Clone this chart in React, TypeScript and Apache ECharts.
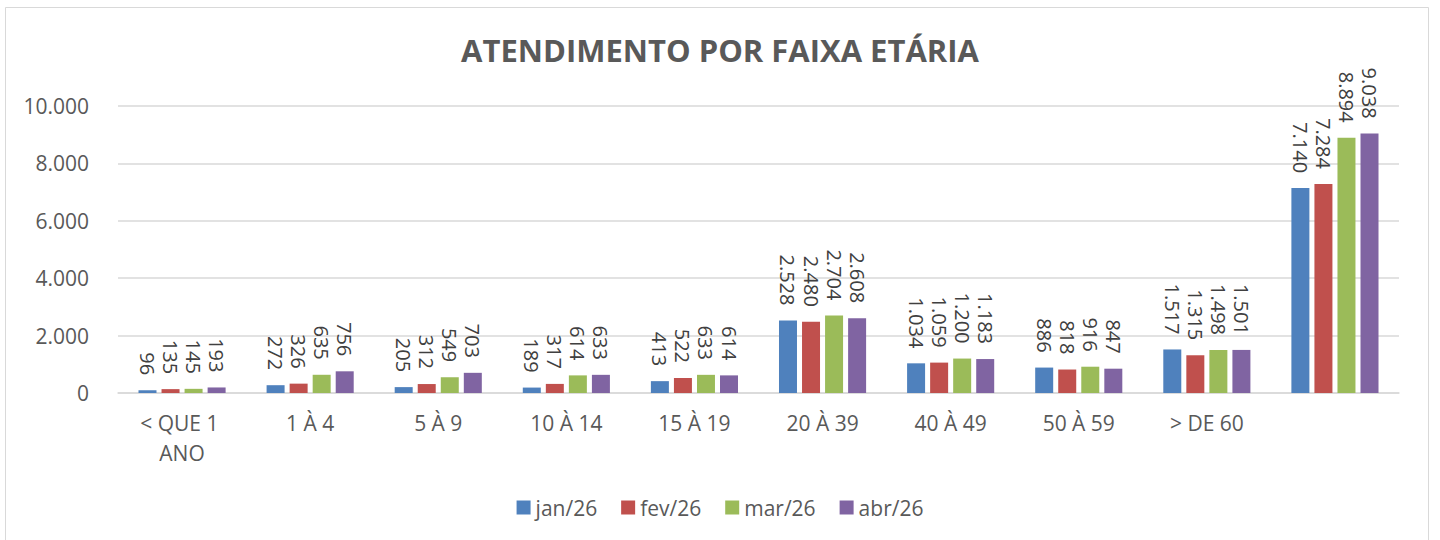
import React, { useEffect, useRef } from "react";
import * as echarts from "echarts";

const categories = ["< QUE 1 ANO", "1 À 4", "5 À 9", "10 À 14", "15 À 19", "20 À 39", "40 À 49", "50 À 59", "> DE 60", ""];
const seriesNames = ["jan/26", "fev/26", "mar/26", "abr/26"];
const jan26 = [96, 272, 205, 189, 413, 2528, 1034, 886, 1517, 7140];
const fev26 = [135, 326, 312, 317, 522, 2480, 1059, 818, 1315, 7284];
const mar26 = [145, 635, 549, 614, 633, 2704, 1200, 916, 1498, 8894];
const abr26 = [193, 756, 703, 633, 614, 2608, 1183, 847, 1501, 9038];
const colors = ["#4F81BD", "#C0504D", "#9BBB59", "#8064A2"];

const fmt = (v: number) => String(v).replace(/\B(?=(\d{3})+(?!\d))/g, ".");

export default function App() {
  const ref = useRef<HTMLDivElement>(null);
  useEffect(() => {
    if (!ref.current) return;
    const chart = echarts.init(ref.current, null, { renderer: "svg" });
    const font = "'Open Sans', 'Noto Sans', sans-serif";
    const data = [jan26, fev26, mar26, abr26];
    chart.setOption({
      animation: false,
      backgroundColor: "#ffffff",
      textStyle: { fontFamily: font },
      title: {
        text: "ATENDIMENTO POR FAIXA ETÁRIA",
        left: "center",
        top: 29,
        textStyle: { fontFamily: font, fontSize: 31, fontWeight: "bold", color: "#595959" },
      },
      graphic: [
        {
          type: "rect",
          shape: { x: 5.5, y: 7.5, width: 1423, height: 600 },
          style: { fill: "none", stroke: "#d9d9d9", lineWidth: 1 },
          silent: true,
        },
      ],
      legend: {
        data: seriesNames,
        top: 492,
        left: "center",
        icon: "rect",
        itemWidth: 14,
        itemHeight: 14,
        itemGap: 24,
        textStyle: { fontFamily: font, fontSize: 21, color: "#595959" },
      },
      grid: { left: 118, right: 41, top: 106, bottom: 147, containLabel: false },
      xAxis: {
        type: "category",
        data: categories,
        axisLine: { show: true, lineStyle: { color: "#d9d9d9", width: 1.5 } },
        axisTick: { show: false },
        axisLabel: {
          interval: 0,
          color: "#595959",
          fontFamily: font,
          fontSize: 21,
          margin: 15,
          lineHeight: 30,
          width: 104,
          overflow: "break",
        },
      },
      yAxis: {
        type: "value",
        min: 0,
        max: 10000,
        interval: 2000,
        axisLine: { show: false },
        axisTick: { show: false },
        splitLine: { lineStyle: { color: "#d9d9d9", width: 1.5 } },
        axisLabel: {
          color: "#595959",
          fontFamily: font,
          fontSize: 21,
          margin: 29,
          formatter: (v: number) => fmt(v),
        },
      },
      series: seriesNames.map((name, i) => ({
        name,
        type: "bar",
        data: data[i],
        barWidth: 18,
        barGap: "28%",
        itemStyle: { color: colors[i] },
        label: {
          show: true,
          position: "top",
          rotate: -90,
          align: "right",
          verticalAlign: "middle",
          distance: 15,
          color: "#404040",
          fontFamily: font,
          fontSize: 20,
          formatter: (p: any) => fmt(p.value),
        },
      })),
    });
    return () => chart.dispose();
  }, []);
  return (
    <div
      ref={ref}
      style={{ position: "fixed", left: 0, top: 0, width: 1440, height: 540 }}
    />
  );
}
